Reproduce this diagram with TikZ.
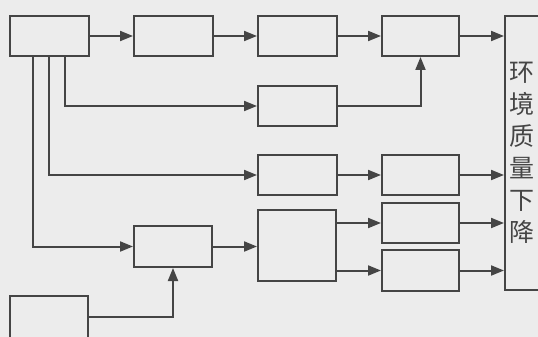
\documentclass[tikz,border=0pt]{standalone}
\usepackage{fontspec}
\newfontfamily\cjk{Noto Sans CJK SC}
\usetikzlibrary{arrows.meta}
\definecolor{ink}{HTML}{454545}
\definecolor{paper}{HTML}{ECECEC}
\begin{document}
\begin{tikzpicture}[x=1pt,y=-1pt,
  box/.style={draw=ink,line width=2pt,inner sep=0pt,minimum width=79pt,minimum height=40pt},
  arr/.style={draw=ink,line width=2pt,-{Triangle[length=13pt,width=10pt]}}]
\useasboundingbox (0,0) rectangle (538,337);
\fill[paper] (0,0) rectangle (538,337);
\clip (0,0) rectangle (538,337);
\node[box] (A) at (49.5,36) {};
\node[box] (B) at (173.5,36) {};
\node[box] (C) at (297.5,36) {};
\node[box,minimum width=77pt] (D) at (420.5,36) {};
\node[box,minimum width=34pt,minimum height=274pt,text=ink,font=\cjk\fontsize{25}{32}\selectfont,align=center] (E) at (522,153) {环\\境\\质\\量\\下\\降};
\node[box] (F) at (297.5,106) {};
\node[box] (G) at (297.5,175) {};
\node[box,minimum width=77pt] (H) at (420.5,175) {};
\node[box,minimum width=78pt,minimum height=41pt] (I) at (173,246.5) {};
\node[box,minimum width=78pt,minimum height=71pt] (J) at (297,245.5) {};
\node[box,minimum width=77pt] (L) at (420.5,223) {};
\node[box,minimum width=77pt,minimum height=41pt] (M) at (420.5,270.5) {};
\node[box,minimum width=78pt,minimum height=42pt] (K) at (49,317) {};
\coordinate (x33) at (33,0);
\coordinate (x49) at (49,0);
\coordinate (x65) at (65,0);
\draw[arr] (A) -- (B);
\draw[arr] (B) -- (C);
\draw[arr] (C) -- (D);
\draw[arr] (D.east) -- (D.east -| E.west);
\draw[arr] (A.south -| x65) |- (F.west);
\draw[arr] (F.east) -| (D.south);
\draw[arr] (A.south -| x49) |- (G.west);
\draw[arr] (G) -- (H);
\draw[arr] (H.east) -- (H.east -| E.west);
\draw[arr] (A.south -| x33) |- (I.west);
\draw[arr] (I.east) -- (I.east -| J.west);
\draw[arr] (K.east) -| (I.south);
\draw[arr] (L.west -| J.east) -- (L.west);
\draw[arr] (M.west -| J.east) -- (M.west);
\draw[arr] (L.east) -- (L.east -| E.west);
\draw[arr] (M.east) -- (M.east -| E.west);
\end{tikzpicture}
\end{document}
